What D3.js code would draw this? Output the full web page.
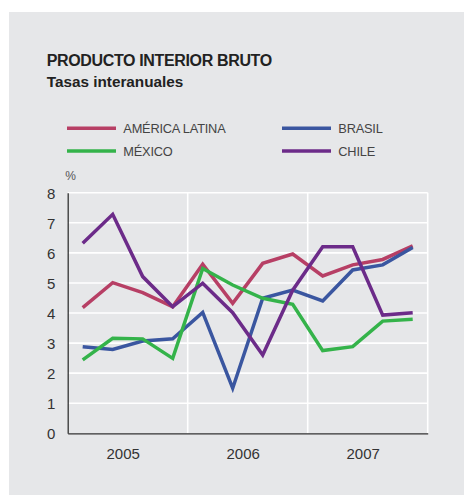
<!DOCTYPE html>
<html>
<head>
<meta charset="utf-8">
<script src="https://cdn.jsdelivr.net/npm/d3@7"></script>
<style>
  body { margin: 0; background: #fff; }
  text { font-family: "Liberation Sans", Arial, sans-serif; }
</style>
</head>
<body>
<script>
// quarterly year-on-year GDP growth, 2005 Q1 .. 2007 Q4
const quarters = ["2005-1","2005-2","2005-3","2005-4","2006-1","2006-2","2006-3","2006-4","2007-1","2007-2","2007-3","2007-4"];
const years = ["2005", "2006", "2007"];
const yTicks = [0, 1, 2, 3, 4, 5, 6, 7, 8];

const americaLatina = [4.18, 5.01, 4.68, 4.21, 5.62, 4.32, 5.65, 5.96, 5.23, 5.60, 5.78, 6.23];
const brasil        = [2.88, 2.79, 3.07, 3.14, 4.02, 1.50, 4.49, 4.76, 4.40, 5.43, 5.60, 6.18];
const mexico        = [2.44, 3.16, 3.14, 2.49, 5.48, 4.93, 4.49, 4.29, 2.75, 2.88, 3.73, 3.79];
const chile         = [6.32, 7.28, 5.21, 4.21, 4.99, 4.01, 2.60, 4.76, 6.20, 6.20, 3.93, 4.01];

const series = [
  { name: "AMÉRICA LATINA", values: americaLatina, color: "#b73f65" },
  { name: "BRASIL", values: brasil, color: "#3a56a0" },
  { name: "MÉXICO", values: mexico, color: "#34b34a" },
  { name: "CHILE", values: chile, color: "#6c2b89" }
];

let svg, x, xYear, y;
let margin, width, height;

main();

function main() {
  setupCanvasSize();
  appendSvg("body");
  addTitle();
  addLegend();
  setupScales();
  appendGrid();
  appendAxes();
  appendLines();
}

function setupCanvasSize() {
  margin = { top: 192.7, left: 67.7, bottom: 61.7, right: 36.3 };
  width = 464 - margin.left - margin.right;
  height = 495 - margin.top - margin.bottom;
}

function appendSvg(domElement) {
  const root = d3.select(domElement).append("svg")
    .attr("width", 464)
    .attr("height", 495);

  root.append("rect")
    .attr("x", 9).attr("y", 12)
    .attr("width", 455).attr("height", 483)
    .attr("fill", "#e6e7e9");

  svg = root.append("g")
    .attr("transform", `translate(${margin.left}, ${margin.top})`);
}

function addTitle() {
  svg.append("text")
    .attr("x", -21).attr("y", -127)
    .style("font-size", "16px")
    .style("font-weight", "bold")
    .style("letter-spacing", "-0.35px")
    .attr("fill", "#222")
    .text("PRODUCTO INTERIOR BRUTO");

  svg.append("text")
    .attr("x", -21).attr("y", -105.5)
    .style("font-size", "15.3px")
    .style("font-weight", "bold")
    .attr("fill", "#222")
    .text("Tasas interanuales");
}

function addLegend() {
  const legend = svg.selectAll(".legend")
    .data(series)
    .enter()
    .append("g")
    .attr("class", "legend")
    .attr("transform", function (d, i) {
      const col = i % 2, row = Math.floor(i / 2);
      return `translate(${col * 215}, ${-64.4 + row * 22.7})`;
    });

  legend.append("line")
    .attr("x1", -0.7).attr("x2", 48.3)
    .attr("stroke", function (d) { return d.color; })
    .attr("stroke-width", 3.5);

  legend.append("text")
    .attr("x", 55.6).attr("y", 4.6)
    .style("font-size", "12.8px")
    .style("letter-spacing", "-0.2px")
    .attr("fill", "#444")
    .text(function (d) { return d.name; });

  svg.append("text")
    .attr("x", -2.5).attr("y", -13)
    .style("font-size", "12px")
    .attr("fill", "#555")
    .text("%");
}

function setupScales() {
  x = d3.scalePoint()
    .domain(quarters)
    .range([0, width])
    .padding(0.5);

  xYear = d3.scaleBand()
    .domain(years)
    .range([0, width]);

  y = d3.scaleLinear()
    .domain([0, 8])
    .range([height, 0]);
}

function appendGrid() {
  // horizontal white gridlines
  svg.append("g")
    .selectAll("line")
    .data(yTicks.slice(1))
    .enter()
    .append("line")
    .attr("x1", 0).attr("x2", width)
    .attr("y1", function (d) { return y(d); })
    .attr("y2", function (d) { return y(d); })
    .attr("stroke", "#fff")
    .attr("stroke-width", 1.6);

  // vertical year separators + right edge
  svg.append("g")
    .selectAll("line")
    .data(years.slice(1).concat(["end"]))
    .enter()
    .append("line")
    .attr("x1", function (d) { return d === "end" ? width : xYear(d); })
    .attr("x2", function (d) { return d === "end" ? width : xYear(d); })
    .attr("y1", 0).attr("y2", height)
    .attr("stroke", "#fff")
    .attr("stroke-width", 1.6);
}

function appendAxes() {
  const yAxis = svg.append("g")
    .call(d3.axisLeft(y).tickValues(yTicks).tickSize(0).tickPadding(12));
  yAxis.select(".domain").attr("stroke", "#333").attr("stroke-width", 1.3);
  yAxis.selectAll("text")
    .style("font-size", "15px")
    .attr("fill", "#333")
    .attr("text-anchor", "middle")
    .attr("x", -16.5)
    .attr("dy", "0.36em");

  const xAxis = svg.append("g")
    .attr("transform", `translate(0, ${height})`)
    .call(d3.axisBottom(xYear).tickSize(0).tickPadding(15));
  xAxis.select(".domain").attr("stroke", "#333").attr("stroke-width", 1.3);
  xAxis.selectAll("text")
    .style("font-size", "15px")
    .attr("fill", "#333")
    .attr("dx", -4.5);
}

function appendLines() {
  const valueline = d3.line()
    .x(function (d, i) { return x(quarters[i]); })
    .y(function (d) { return y(d); });

  svg.selectAll(".line")
    .data(series)
    .enter()
    .append("path")
    .attr("class", "line")
    .attr("d", function (d) { return valueline(d.values); })
    .attr("fill", "none")
    .attr("stroke", function (d) { return d.color; })
    .attr("stroke-width", 3.5)
    .attr("stroke-linejoin", "miter")
    .attr("stroke-miterlimit", 3);
}
</script>
</body>
</html>
